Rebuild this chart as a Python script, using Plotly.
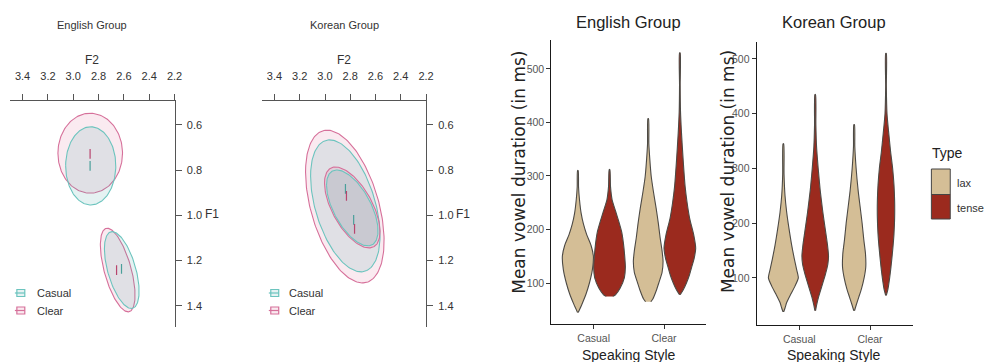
import numpy as np
import plotly.graph_objects as go

W, H = 987, 362

# ---------------- Formant ellipse data (kHz) ----------------
# English group: V1 (upper) and V2 (lower) vowel clouds
ENG_ELL_STYLE = ["Clear", "Casual", "Clear", "Casual"]
ENG_ELL_F2 = [2.866, 2.862, 2.649, 2.617]
ENG_ELL_F1 = [0.725, 0.781, 1.242, 1.242]
ENG_ELL_SD_F2 = [0.255, 0.198, 0.137, 0.137]
ENG_ELL_SD_F1 = [0.177, 0.173, 0.185, 0.170]
ENG_ELL_RHO = [0.0, 0.0, -0.60, -0.55]

ENG_MEAN_STYLE = ["Clear", "Casual", "Clear", "Casual"]
ENG_MEAN_F2 = [2.867, 2.867, 2.658, 2.619]
ENG_MEAN_F1 = [0.728, 0.781, 1.242, 1.237]

# Korean group
KOR_ELL_STYLE = ["Clear", "Casual", "Clear", "Casual"]
KOR_ELL_F2 = [2.843, 2.839, 2.784, 2.784]
KOR_ELL_F1 = [0.961, 0.958, 0.965, 0.967]
KOR_ELL_SD_F2 = [0.311, 0.275, 0.220, 0.204]
KOR_ELL_SD_F1 = [0.338, 0.292, 0.179, 0.168]
KOR_ELL_RHO = [-0.45, -0.45, -0.60, -0.60]

KOR_MEAN_STYLE = ["Casual", "Clear", "Casual", "Clear"]
KOR_MEAN_F2 = [2.838, 2.830, 2.773, 2.766]
KOR_MEAN_F1 = [0.883, 0.914, 1.020, 1.060]

F2_TICKS = [3.4, 3.2, 3.0, 2.8, 2.6, 2.4, 2.2]
F1_TICKS = [0.6, 0.8, 1.0, 1.2, 1.4]

# ---------------- Violin data (duration in ms, density half-widths) ----------------
SPEAKING_STYLES = ["Casual", "Clear"]
TYPES = ["lax", "tense"]
DUR_TICKS = [100, 200, 300, 400, 500]

ENG_CASUAL_LAX_Y = [45, 60, 80, 100, 125, 150, 170, 190, 210, 230, 255, 280, 310]
ENG_CASUAL_LAX_D = [1, 12, 25, 35, 44, 47, 40, 27, 17, 10, 5, 2, 1]
ENG_CASUAL_TENSE_Y = [75, 78, 90, 110, 130, 150, 175, 195, 215, 235, 255, 280, 312]
ENG_CASUAL_TENSE_D = [10, 18, 32, 45, 48, 46, 42, 37, 28, 18, 8, 3, 1]
ENG_CLEAR_LAX_Y = [65, 70, 85, 100, 120, 140, 160, 185, 210, 240, 270, 300, 330, 360, 407]
ENG_CLEAR_LAX_D = [8, 14, 24, 32, 42, 45, 42, 36, 31, 24, 16, 9, 5, 2, 1]
ENG_CLEAR_TENSE_Y = [78, 87, 100, 115, 130, 145, 165, 190, 220, 250, 280, 330, 380, 420, 470, 530]
ENG_CLEAR_TENSE_D = [1, 10, 20, 29, 36, 43, 48, 42, 30, 22, 16, 10, 5, 2, 1, 1]

KOR_CASUAL_LAX_Y = [38, 45, 55, 70, 85, 100, 115, 135, 160, 190, 220, 250, 290, 345]
KOR_CASUAL_LAX_D = [1, 5, 10, 22, 35, 45, 40, 33, 25, 17, 10, 5, 2, 1]
KOR_CASUAL_TENSE_Y = [40, 50, 65, 85, 105, 125, 140, 160, 190, 220, 260, 300, 340, 380, 435]
KOR_CASUAL_TENSE_D = [1, 4, 10, 20, 30, 38, 40, 37, 30, 23, 15, 9, 4, 2, 1]
KOR_CLEAR_LAX_Y = [40, 50, 65, 80, 100, 120, 145, 170, 200, 230, 260, 300, 340, 380]
KOR_CLEAR_LAX_D = [1, 6, 14, 22, 30, 35, 34, 29, 24, 18, 12, 6, 2, 1]
KOR_CLEAR_TENSE_Y = [68, 80, 100, 120, 150, 180, 210, 240, 270, 300, 330, 360, 400, 450, 510]
KOR_CLEAR_TENSE_D = [1, 6, 11, 15, 20, 24, 26, 26, 24, 20, 14, 9, 3, 1, 1]

# ---------------- styling ----------------
SANS = "Liberation Sans, Arial, sans-serif"
LINE_COL = {"Casual": "#6cc4be", "Clear": "#d6709a"}
FILL_COL = {"Casual": "rgba(80,170,170,0.15)", "Clear": "rgba(214,96,140,0.13)"}
MEAN_COL = {"Casual": "#4a9f9a", "Clear": "#b8456e"}
TYPE_FILL = {"lax": "#d4be96", "tense": "#9b2a1e"}
VIOLIN_LINE = "#4d4a45"
DENS_SCALE = 1 / 213.0
DODGE = 0.225


def px(x):
    return x / W


def py(y):
    return 1 - y / H


fig = go.Figure()


def add_ellipses(styles, f2, f1, s2, s1, rho, xa, ya):
    t = np.linspace(0, 2 * np.pi, 181)
    for st, cx, cy, rx, ry, r in zip(styles, f2, f1, s2, s1, rho):
        ex = cx + rx * np.cos(t)
        ey = cy + ry * (r * np.cos(t) + np.sqrt(1 - r * r) * np.sin(t))
        fig.add_trace(go.Scatter(x=ex, y=ey, mode="lines", fill="toself",
                                 fillcolor=FILL_COL[st],
                                 line=dict(color=LINE_COL[st], width=1.1),
                                 xaxis=xa, yaxis=ya, showlegend=False, hoverinfo="skip"))


def add_means(styles, f2, f1, xa, ya):
    for st, x, y in zip(styles, f2, f1):
        fig.add_trace(go.Scatter(x=[x], y=[y], mode="markers",
                                 marker=dict(symbol="line-ns", size=7,
                                             line=dict(color=MEAN_COL[st], width=1.2)),
                                 xaxis=xa, yaxis=ya, showlegend=False, hoverinfo="skip"))


add_ellipses(ENG_ELL_STYLE, ENG_ELL_F2, ENG_ELL_F1, ENG_ELL_SD_F2, ENG_ELL_SD_F1, ENG_ELL_RHO, "x", "y")
add_means(ENG_MEAN_STYLE, ENG_MEAN_F2, ENG_MEAN_F1, "x", "y")
add_ellipses(KOR_ELL_STYLE, KOR_ELL_F2, KOR_ELL_F1, KOR_ELL_SD_F2, KOR_ELL_SD_F1, KOR_ELL_RHO, "x2", "y2")
add_means(KOR_MEAN_STYLE, KOR_MEAN_F2, KOR_MEAN_F1, "x2", "y2")


def add_violin(center, ys, ds, typ, xa, ya):
    ys = np.asarray(ys, float)
    w = np.asarray(ds, float) * DENS_SCALE
    xs = np.concatenate([center + w, (center - w)[::-1]])
    yy = np.concatenate([ys, ys[::-1]])
    fig.add_trace(go.Scatter(x=xs, y=yy, mode="lines", fill="toself",
                             fillcolor=TYPE_FILL[typ],
                             line=dict(color=VIOLIN_LINE, width=1.1, shape="spline", smoothing=0.6),
                             xaxis=xa, yaxis=ya, showlegend=False, hoverinfo="skip"))


ENG_V = {("Casual", "lax"): (ENG_CASUAL_LAX_Y, ENG_CASUAL_LAX_D),
         ("Casual", "tense"): (ENG_CASUAL_TENSE_Y, ENG_CASUAL_TENSE_D),
         ("Clear", "lax"): (ENG_CLEAR_LAX_Y, ENG_CLEAR_LAX_D),
         ("Clear", "tense"): (ENG_CLEAR_TENSE_Y, ENG_CLEAR_TENSE_D)}
KOR_V = {("Casual", "lax"): (KOR_CASUAL_LAX_Y, KOR_CASUAL_LAX_D),
         ("Casual", "tense"): (KOR_CASUAL_TENSE_Y, KOR_CASUAL_TENSE_D),
         ("Clear", "lax"): (KOR_CLEAR_LAX_Y, KOR_CLEAR_LAX_D),
         ("Clear", "tense"): (KOR_CLEAR_TENSE_Y, KOR_CLEAR_TENSE_D)}

for data, xa, ya in [(ENG_V, "x3", "y3"), (KOR_V, "x4", "y4")]:
    for i, s in enumerate(SPEAKING_STYLES):
        for tp in TYPES:
            c = (i + 1) + (-DODGE if tp == "lax" else DODGE)
            yv, dv = data[(s, tp)]
            add_violin(c, yv, dv, tp, xa, ya)

# ---------------- axes ----------------
ell_x = dict(range=[3.5, 2.2], side="top", tickvals=F2_TICKS, tickformat=".1f",
             ticks="outside", ticklen=6, tickcolor="#555", showline=True, linecolor="#555",
             linewidth=1, showgrid=False, zeroline=False, ticklabelstandoff=10,
             tickfont=dict(family=SANS, size=11, color="#333"))
ell_y = dict(range=[1.494, 0.494], side="right", tickvals=F1_TICKS, tickformat=".1f",
             ticks="outside", ticklen=6, tickcolor="#555", showline=True, linecolor="#555",
             linewidth=1, showgrid=False, zeroline=False, ticklabelstandoff=3,
             tickfont=dict(family=SANS, size=11, color="#333"))
vio_x = dict(range=[0.4, 2.6], tickvals=[1, 2], ticktext=SPEAKING_STYLES, ticks="outside",
             ticklen=4, tickcolor="#333", showline=True, linecolor="#1a1a1a", linewidth=1.4,
             showgrid=False, zeroline=False, tickfont=dict(family=SANS, size=10.5, color="#555"))
vio_y = dict(tickvals=DUR_TICKS, ticks="outside", ticklen=4, tickcolor="#333", showline=True,
             linecolor="#1a1a1a", linewidth=1.4, showgrid=False, zeroline=False,
             tickfont=dict(family=SANS, size=10.5, color="#555"))

fig.update_layout(
    xaxis=dict(domain=[px(10), px(176)], anchor="y", **ell_x),
    yaxis=dict(domain=[py(327), py(101)], anchor="x", **ell_y),
    xaxis2=dict(domain=[px(264), px(429.5)], anchor="y2", **ell_x),
    yaxis2=dict(domain=[py(327), py(101)], anchor="x2", **ell_y),
    xaxis3=dict(domain=[px(556), px(712)], anchor="y3", **vio_x),
    yaxis3=dict(domain=[py(324), py(40)], anchor="x3", range=[23.4, 554], **vio_y),
    xaxis4=dict(domain=[px(763), px(920)], anchor="y4", **vio_x),
    yaxis4=dict(domain=[py(325), py(42)], anchor="x4", range=[14, 531], **vio_y),
    width=W, height=H, autosize=False,
    margin=dict(l=0, r=0, t=0, b=0),
    paper_bgcolor="white", plot_bgcolor="white",
    showlegend=False,
)

ann = []


def text(s, x, y, size, family=SANS, color="#333", xanchor="center", angle=0):
    ann.append(dict(text=s, x=px(x), y=py(y), xref="paper", yref="paper", showarrow=False,
                    xanchor=xanchor, yanchor="middle", textangle=angle,
                    font=dict(family=family, size=size, color=color)))


# ellipse panel labels
text("English Group", 93, 25, 11)
text("F2", 93, 60, 12)
text("F1", 214, 214, 12)
text("Korean Group", 347, 25, 11)
text("F2", 347, 60, 12)
text("F1", 467, 214, 12)
for x0 in (35, 289):
    text("Casual", x0, 293, 11, xanchor="left")
    text("Clear", x0, 310.5, 11, xanchor="left")

# violin panel labels
text("English Group", 634, 22, 16.5, color="#222")
text("Korean Group", 841, 22, 16.5, color="#222")
text("Mean vowel duration (in ms)", 523, 172, 17, family="DejaVu Sans, Liberation Sans, sans-serif",
     color="#222", angle=-90)
text("Mean vowel duration (in ms)", 734, 172, 17, family="DejaVu Sans, Liberation Sans, sans-serif",
     color="#222", angle=-90)
text("Speaking Style", 634, 355, 14, color="#222")
text("Speaking Style", 841, 355, 14, color="#222")
text("Type", 938, 153, 14, color="#222", xanchor="left")
text("lax", 963, 183, 11, xanchor="left")
text("tense", 963, 208, 11, xanchor="left")

shapes = []
# ellipse legend glyphs
for gx in (21, 277):
    for st, gy in (("Casual", 293), ("Clear", 310.5)):
        shapes.append(dict(type="rect", xref="paper", yref="paper",
                           x0=px(gx - 4), x1=px(gx + 4), y0=py(gy + 3.5), y1=py(gy - 3.5),
                           line=dict(color=LINE_COL[st], width=1.2), fillcolor=FILL_COL[st]))
        shapes.append(dict(type="line", xref="paper", yref="paper",
                           x0=px(gx - 6), x1=px(gx + 4), y0=py(gy), y1=py(gy),
                           line=dict(color=LINE_COL[st], width=1.2)))
# violin legend keys
for tp, (y0, y1) in (("lax", (169, 194.5)), ("tense", (194.5, 219))):
    shapes.append(dict(type="rect", xref="paper", yref="paper",
                       x0=px(939), x1=px(958), y0=py(y1), y1=py(y0),
                       line=dict(color="#444", width=1), fillcolor=TYPE_FILL[tp]))

fig.update_layout(annotations=ann, shapes=shapes)
fig.write_html("out.html", config={"displayModeBar": False},
               post_script="document.body.style.margin='0px';")
